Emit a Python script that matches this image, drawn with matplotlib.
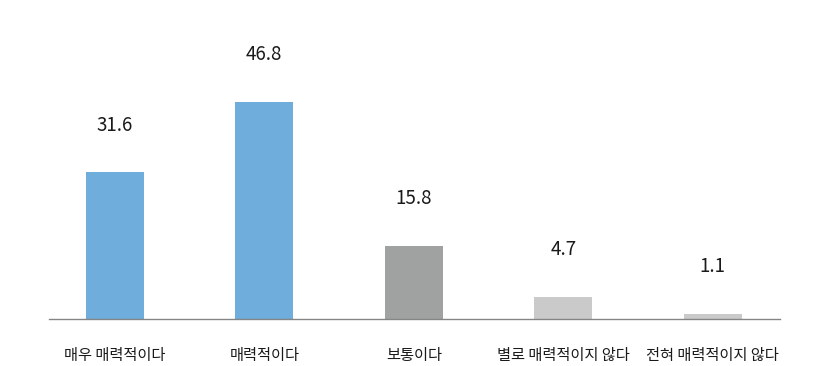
import matplotlib
matplotlib.use("Agg")
from matplotlib import pyplot as plt

plt.rcParams['font.family'] = ['Noto Sans CJK KR', 'DejaVu Sans']

categories = ["매우 매력적이다", "매력적이다", "보통이다", "별로 매력적이지 않다", "전혀 매력적이지 않다"]
values = [31.6, 46.8, 15.8, 4.7, 1.1]
colors = ["#6FAEDC", "#6FAEDC", "#A0A2A1", "#C9CAC9", "#C9CAC9"]

fig = plt.figure(figsize=(8.35, 3.66), dpi=100)
ax = fig.add_axes([49 / 835, 47 / 366, 731 / 835, 319 / 366])

x = list(range(len(values)))
ax.bar(x, values, width=58 / 149.5, color=colors, edgecolor="none")

for xi, v in zip(x, values):
    ax.annotate(f"{v:.1f}", (xi, v), xytext=(0, 34), textcoords="offset points",
                ha="center", va="center", fontsize=13.5, color="#1a1a1a")

ax.set_xlim(-0.44, 4.45)
ax.set_ylim(0, 68.7)
ax.set_xticks(x)
ax.set_xticklabels(categories, fontsize=11, color="#1a1a1a")
ax.tick_params(axis="x", length=0, pad=20)
ax.set_yticks([])

for side in ["top", "right", "left"]:
    ax.spines[side].set_visible(False)
ax.spines["bottom"].set_color("#858585")
ax.spines["bottom"].set_linewidth(1.0)

fig.savefig("out.png", dpi=100)
